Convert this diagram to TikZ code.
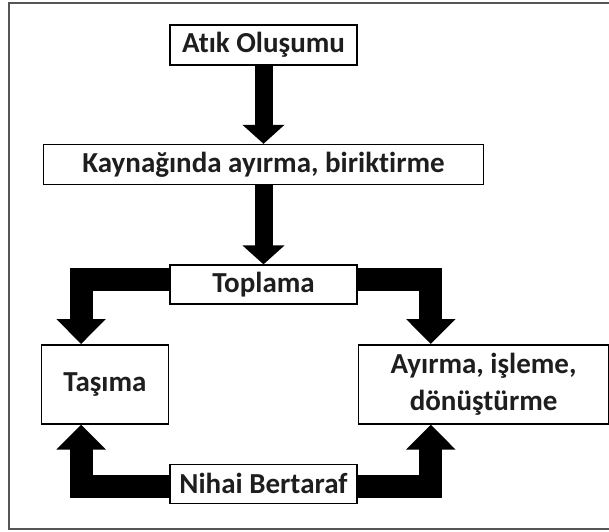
\documentclass[tikz,border=0pt]{standalone}
\usepackage{fontspec}
\setmainfont[Ligatures={NoCommon}]{Carlito}
\usetikzlibrary{arrows.meta, positioning, calc}
\definecolor{wastegrey}{HTML}{555555}
\definecolor{wasteink}{HTML}{1E1E1E}
\tikzset{
  box/.style={rectangle, draw=black, line width=1.6pt, fill=white, align=center,
              minimum height=40pt, inner sep=2pt, text=wasteink,
              font=\fontsize{29}{37}\selectfont\bfseries},
  flow/.style={line width=18pt, draw=black, -{Triangle[width=41pt, length=19pt]}},
  flowe/.style={line width=23pt, draw=black, line join=miter,
                -{Triangle[width=48pt, length=25pt]}},
}

\begin{document}
\begin{tikzpicture}[x=1pt, y=1pt]
  \useasboundingbox (0,0) rectangle (609,-531);
  \draw[wastegrey, line width=1.5pt] (609,-3) -- (9,-3) -- (9,-529) -- (609,-529);

  \node[box, minimum width=187pt] (atik) at (263.5,-45) {Atık Oluşumu};
  \node[box, minimum width=440pt, below=78pt of atik] (kaynak) {Kaynağında ayırma, biriktirme};
  \node[box, minimum width=187pt, minimum height=39pt, below=79pt of kaynak] (toplama) {Toplama};
  \node[box, minimum width=127pt, minimum height=79pt,
        below=39pt of toplama.south west, anchor=north east] (tasima) {Taşıma};
  \node[box, minimum width=250pt, minimum height=79pt,
        below=39pt of toplama.south east, anchor=north west] (ayirma) {Ayırma, işleme,\\ dönüştürme};
  \node[box, minimum width=187pt, minimum height=39pt,
        below=39pt of tasima.south east, anchor=north west] (nihai) {Nihai Bertaraf};

  % bend points of the block arrows
  \coordinate (tl) at ($(tasima.north west)+(40.5,0)$);
  \coordinate (tr) at ($(ayirma.north west)+(73,0)$);
  \coordinate (bl) at ($(tasima.south west)+(40.5,0)$);
  \coordinate (br) at ($(ayirma.south west)+(73,0)$);

  \draw[flow] (atik) -- (kaynak);
  \draw[flow] (kaynak) -- (toplama);
  \draw[flowe] ([yshift=5pt]toplama.west) -| (tl);
  \draw[flowe] ([yshift=5pt]toplama.east) -| (tr);
  \draw[flowe] ([yshift=-3pt]nihai.west) -| (bl);
  \draw[flowe] ([yshift=-3pt]nihai.east) -| (br);
\end{tikzpicture}
\end{document}
